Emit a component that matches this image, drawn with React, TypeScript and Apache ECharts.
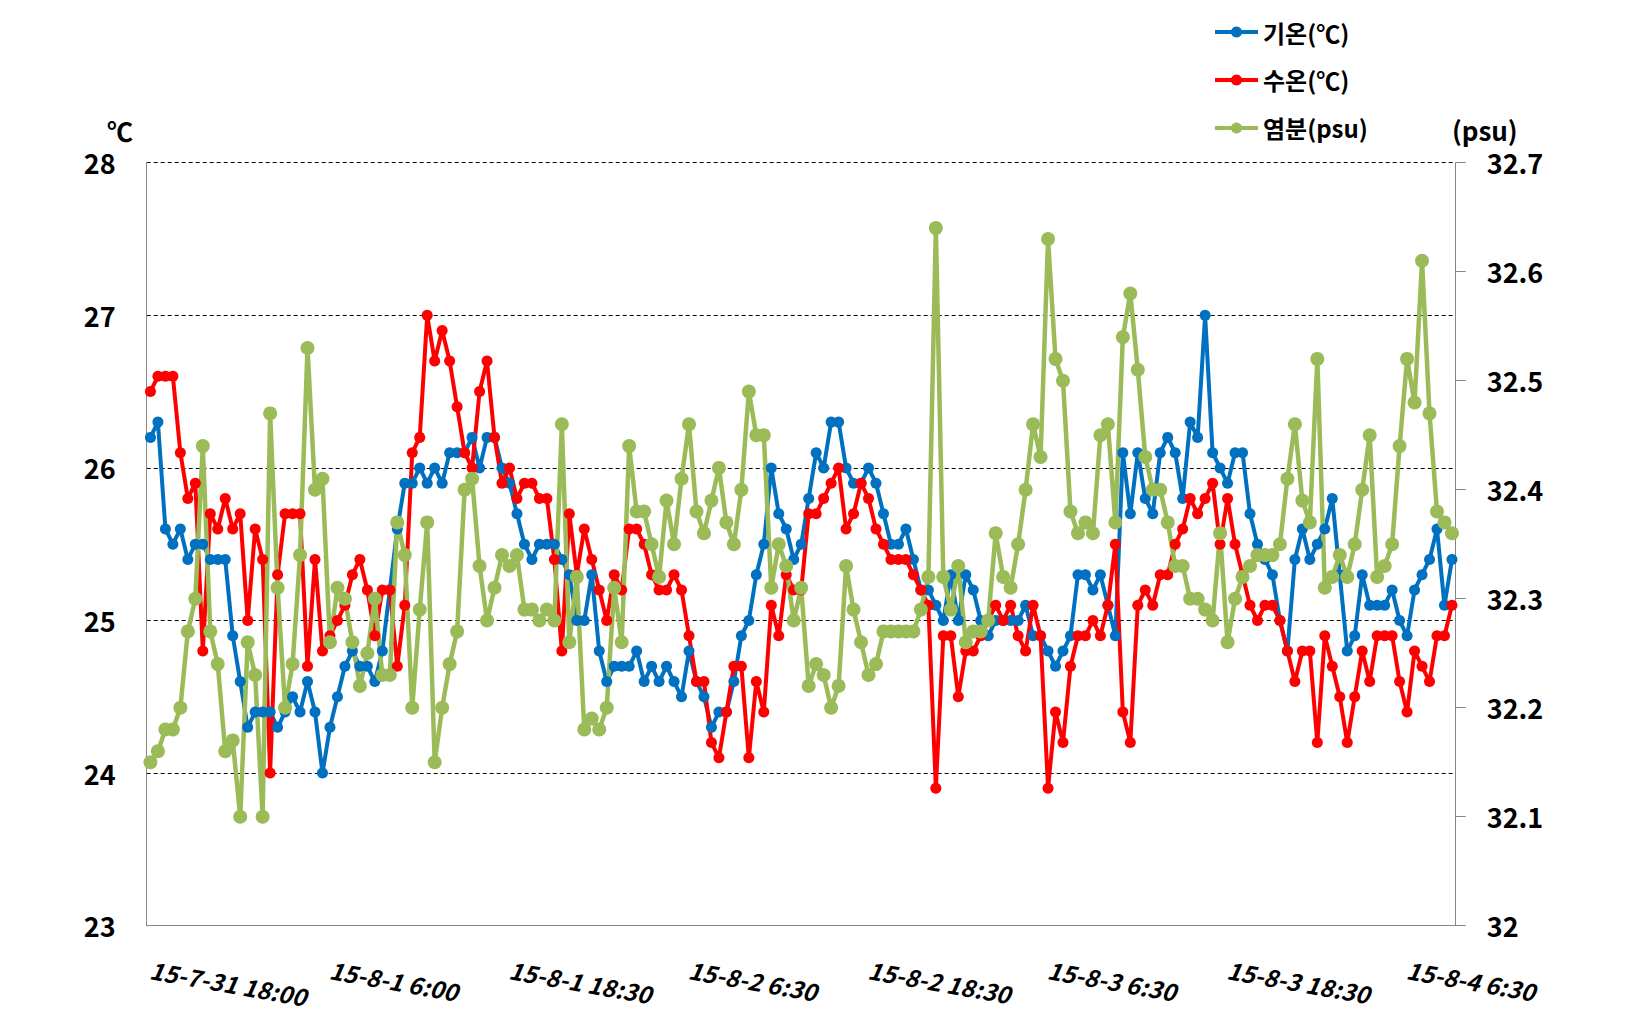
import React, { useEffect, useRef } from "react";
import * as echarts from "echarts";

const FONT = '"Noto Sans CJK KR", "Noto Sans", sans-serif';
const BLUE = "#0070C0";
const RED = "#FF0000";
const GREEN = "#9BBB59";

// 기온 (air temperature, ℃)
const airTemp = [
  26.2, 26.3, 25.6, 25.5, 25.6, 25.4, 25.5, 25.5, 25.4, 25.4,
  25.4, 24.9, 24.6, 24.3, 24.4, 24.4, 24.4, 24.3, 24.4, 24.5,
  24.4, 24.6, 24.4, 24.0, 24.3, 24.5, 24.7, 24.8, 24.7, 24.7,
  24.6, 24.8, 25.2, 25.6, 25.9, 25.9, 26.0, 25.9, 26.0, 25.9,
  26.1, 26.1, 26.1, 26.2, 26.0, 26.2, 26.2, 26.0, 25.9, 25.7,
  25.5, 25.4, 25.5, 25.5, 25.5, 25.4, 25.3, 25.0, 25.0, 25.3,
  24.8, 24.6, 24.7, 24.7, 24.7, 24.8, 24.6, 24.7, 24.6, 24.7,
  24.6, 24.5, 24.8, 24.6, 24.5, 24.3, 24.4, 24.4, 24.6, 24.9,
  25.0, 25.3, 25.5, 26.0, 25.7, 25.6, 25.4, 25.5, 25.8, 26.1,
  26.0, 26.3, 26.3, 26.0, 25.9, 25.9, 26.0, 25.9, 25.7, 25.5,
  25.5, 25.6, 25.4, 25.2, 25.2, 25.1, 25.0, 25.3, 25.0, 25.3,
  25.2, 25.0, 24.9, 25.0, 25.0, 25.0, 25.0, 25.1, 24.9, 24.9,
  24.8, 24.7, 24.8, 24.9, 25.3, 25.3, 25.2, 25.3, 25.1, 24.9,
  26.1, 25.7, 26.1, 25.8, 25.7, 26.1, 26.2, 26.1, 25.8, 26.3,
  26.2, 27.0, 26.1, 26.0, 25.9, 26.1, 26.1, 25.7, 25.5, 25.4,
  25.3, 25.0, 24.8, 25.4, 25.6, 25.4, 25.5, 25.6, 25.8, 25.3,
  24.8, 24.9, 25.3, 25.1, 25.1, 25.1, 25.2, 25.0, 24.9, 25.2,
  25.3, 25.4, 25.6, 25.1, 25.4,
];

// 수온 (water temperature, ℃)
const waterTemp = [
  26.5, 26.6, 26.6, 26.6, 26.1, 25.8, 25.9, 24.8, 25.7, 25.6,
  25.8, 25.6, 25.7, 25.0, 25.6, 25.4, 24.0, 25.3, 25.7, 25.7,
  25.7, 24.7, 25.4, 24.8, 24.9, 25.0, 25.1, 25.3, 25.4, 25.2,
  24.9, 25.2, 25.2, 24.7, 25.1, 26.1, 26.2, 27.0, 26.7, 26.9,
  26.7, 26.4, 26.1, 26.0, 26.5, 26.7, 26.2, 25.9, 26.0, 25.8,
  25.9, 25.9, 25.8, 25.8, 25.4, 24.8, 25.7, 25.3, 25.6, 25.4,
  25.2, 25.0, 25.3, 25.2, 25.6, 25.6, 25.5, 25.3, 25.2, 25.2,
  25.3, 25.2, 24.9, 24.6, 24.6, 24.2, 24.1, 24.4, 24.7, 24.7,
  24.1, 24.6, 24.4, 25.1, 24.9, 25.3, 25.2, 25.2, 25.7, 25.7,
  25.8, 25.9, 26.0, 25.6, 25.7, 25.9, 25.8, 25.6, 25.5, 25.4,
  25.4, 25.4, 25.3, 25.2, 25.1, 23.9, 24.9, 24.9, 24.5, 24.8,
  24.8, 24.9, 25.0, 25.1, 25.0, 25.1, 24.9, 24.8, 25.1, 24.9,
  23.9, 24.4, 24.2, 24.7, 24.9, 24.9, 25.0, 24.9, 25.1, 25.5,
  24.4, 24.2, 25.1, 25.2, 25.1, 25.3, 25.3, 25.5, 25.6, 25.8,
  25.7, 25.8, 25.9, 25.5, 25.8, 25.5, 25.3, 25.1, 25.0, 25.1,
  25.1, 25.0, 24.8, 24.6, 24.8, 24.8, 24.2, 24.9, 24.7, 24.5,
  24.2, 24.5, 24.8, 24.6, 24.9, 24.9, 24.9, 24.6, 24.4, 24.8,
  24.7, 24.6, 24.9, 24.9, 25.1,
];

// 염분 (salinity, psu)
const salinity = [
  32.15, 32.16, 32.18, 32.18, 32.20, 32.27, 32.30, 32.44, 32.27, 32.24,
  32.16, 32.17, 32.10, 32.26, 32.23, 32.10, 32.47, 32.31, 32.20, 32.24,
  32.34, 32.53, 32.40, 32.41, 32.26, 32.31, 32.30, 32.26, 32.22, 32.25,
  32.30, 32.23, 32.23, 32.37, 32.34, 32.20, 32.29, 32.37, 32.15, 32.20,
  32.24, 32.27, 32.40, 32.41, 32.33, 32.28, 32.31, 32.34, 32.33, 32.34,
  32.29, 32.29, 32.28, 32.29, 32.28, 32.46, 32.26, 32.32, 32.18, 32.19,
  32.18, 32.20, 32.31, 32.26, 32.44, 32.38, 32.38, 32.35, 32.32, 32.39,
  32.35, 32.41, 32.46, 32.38, 32.36, 32.39, 32.42, 32.37, 32.35, 32.40,
  32.49, 32.45, 32.45, 32.31, 32.35, 32.33, 32.28, 32.31, 32.22, 32.24,
  32.23, 32.20, 32.22, 32.33, 32.29, 32.26, 32.23, 32.24, 32.27, 32.27,
  32.27, 32.27, 32.27, 32.29, 32.32, 32.64, 32.32, 32.29, 32.33, 32.26,
  32.27, 32.27, 32.28, 32.36, 32.32, 32.31, 32.35, 32.40, 32.46, 32.43,
  32.63, 32.52, 32.50, 32.38, 32.36, 32.37, 32.36, 32.45, 32.46, 32.37,
  32.54, 32.58, 32.51, 32.43, 32.40, 32.40, 32.37, 32.33, 32.33, 32.30,
  32.30, 32.29, 32.28, 32.36, 32.26, 32.30, 32.32, 32.33, 32.34, 32.34,
  32.34, 32.35, 32.41, 32.46, 32.39, 32.37, 32.52, 32.31, 32.32, 32.34,
  32.32, 32.35, 32.40, 32.45, 32.32, 32.33, 32.35, 32.44, 32.52, 32.48,
  32.61, 32.47, 32.38, 32.37, 32.36,
];

// tick labels shown on the category axis (every 24th sample)
const xTickLabels = [
  "15-7-31 18:00",
  "15-8-1 6:00",
  "15-8-1 18:30",
  "15-8-2 6:30",
  "15-8-2 18:30",
  "15-8-3 6:30",
  "15-8-3 18:30",
  "15-8-4 6:30",
];

const seriesNames = ["기온(℃)", "수온(℃)", "염분(psu)"];

// 30-minute sampling times (one half-hour gap after 15-8-1 6:00)
function buildCategories(n: number): string[] {
  const start = Date.UTC(2015, 6, 31, 18, 0);
  const out: string[] = [];
  for (let i = 0; i < n; i++) {
    if (i % 24 === 0 && xTickLabels[i / 24]) {
      out.push(xTickLabels[i / 24]);
      continue;
    }
    const mins = i * 30 + (i > 24 ? 30 : 0);
    const d = new Date(start + mins * 60000);
    const mm = d.getUTCMinutes();
    out.push(
      `15-${d.getUTCMonth() + 1}-${d.getUTCDate()} ${d.getUTCHours()}:${mm < 10 ? "0" + mm : mm}`
    );
  }
  return out;
}
const categories = buildCategories(airTemp.length);

export default function App() {
  const ref = useRef<HTMLDivElement>(null);

  useEffect(() => {
    if (!ref.current) return;
    const chart = echarts.init(ref.current, null, { renderer: "svg" });
    const lineSeries = (
      name: string,
      data: number[],
      color: string,
      axis: number,
      size: number,
      width: number
    ) => ({
      name,
      type: "line",
      data,
      yAxisIndex: axis,
      symbol: "circle",
      symbolSize: size,
      showAllSymbol: true,
      lineStyle: { color, width },
      itemStyle: { color },
      emphasis: { disabled: true },
    });
    chart.setOption({
      animation: false,
      backgroundColor: "#ffffff",
      textStyle: { fontFamily: FONT },
      grid: { left: 146.7, right: 176.3, top: 162.7, bottom: 92.3, containLabel: false },
      legend: {
        orient: "vertical",
        left: 1213,
        top: 20,
        padding: 0,
        itemWidth: 43,
        itemHeight: 14,
        itemGap: 24,
        lineStyle: { width: 4 },
        textStyle: { fontSize: 24, fontWeight: "bold", color: "#000", fontFamily: FONT },
        data: seriesNames,
      },
      xAxis: {
        type: "category",
        data: categories,
        boundaryGap: true,
        z: 5,
        axisLine: { lineStyle: { color: "#868686", width: 1 } },
        axisTick: { show: false },
        splitLine: { show: false },
        axisLabel: {
          interval: 23,
          rotate: -10,
          margin: 43,
          fontSize: 24,
          fontWeight: "bold",
          fontStyle: "italic",
          color: "#000",
          fontFamily: FONT,
        },
      },
      yAxis: [
        {
          type: "value",
          position: "left",
          min: 23,
          max: 28,
          interval: 1,
          axisLine: { show: true, lineStyle: { color: "#868686", width: 1 } },
          axisTick: { show: false },
          axisLabel: { margin: 31, fontSize: 27, fontWeight: "bold", color: "#000", fontFamily: FONT },
          splitLine: { show: true, lineStyle: { color: "#000", width: 1, type: [4, 3] } },
        },
        {
          type: "value",
          position: "right",
          min: 32,
          max: 32.7,
          interval: 0.1,
          axisLine: { show: true, lineStyle: { color: "#868686", width: 1 } },
          axisTick: { show: true, length: 10, lineStyle: { color: "#868686", width: 1 } },
          axisLabel: {
            margin: 31,
            fontSize: 27,
            fontWeight: "bold",
            color: "#000",
            fontFamily: FONT,
            formatter: (v: number) => String(Math.round(v * 10) / 10),
          },
          splitLine: { show: false },
        },
      ],
      graphic: [
        {
          type: "text",
          x: 107,
          y: 130,
          style: {
            text: "℃",
            fill: "#000",
            font: `bold 26px ${FONT}`,
            verticalAlign: "middle",
            align: "left",
          },
        },
        {
          type: "text",
          x: 1452,
          y: 129,
          style: {
            text: "(psu)",
            fill: "#000",
            font: `bold 26px ${FONT}`,
            verticalAlign: "middle",
            align: "left",
          },
        },
      ],
      series: [
        lineSeries(seriesNames[0], airTemp, BLUE, 0, 11, 4),
        lineSeries(seriesNames[1], waterTemp, RED, 0, 11, 4),
        lineSeries(seriesNames[2], salinity, GREEN, 1, 14, 4.5),
      ],
    });
    return () => chart.dispose();
  }, []);

  return (
    <div
      ref={ref}
      style={{ position: "fixed", left: 0, top: 0, width: 1632, height: 1018, background: "#fff" }}
    />
  );
}
